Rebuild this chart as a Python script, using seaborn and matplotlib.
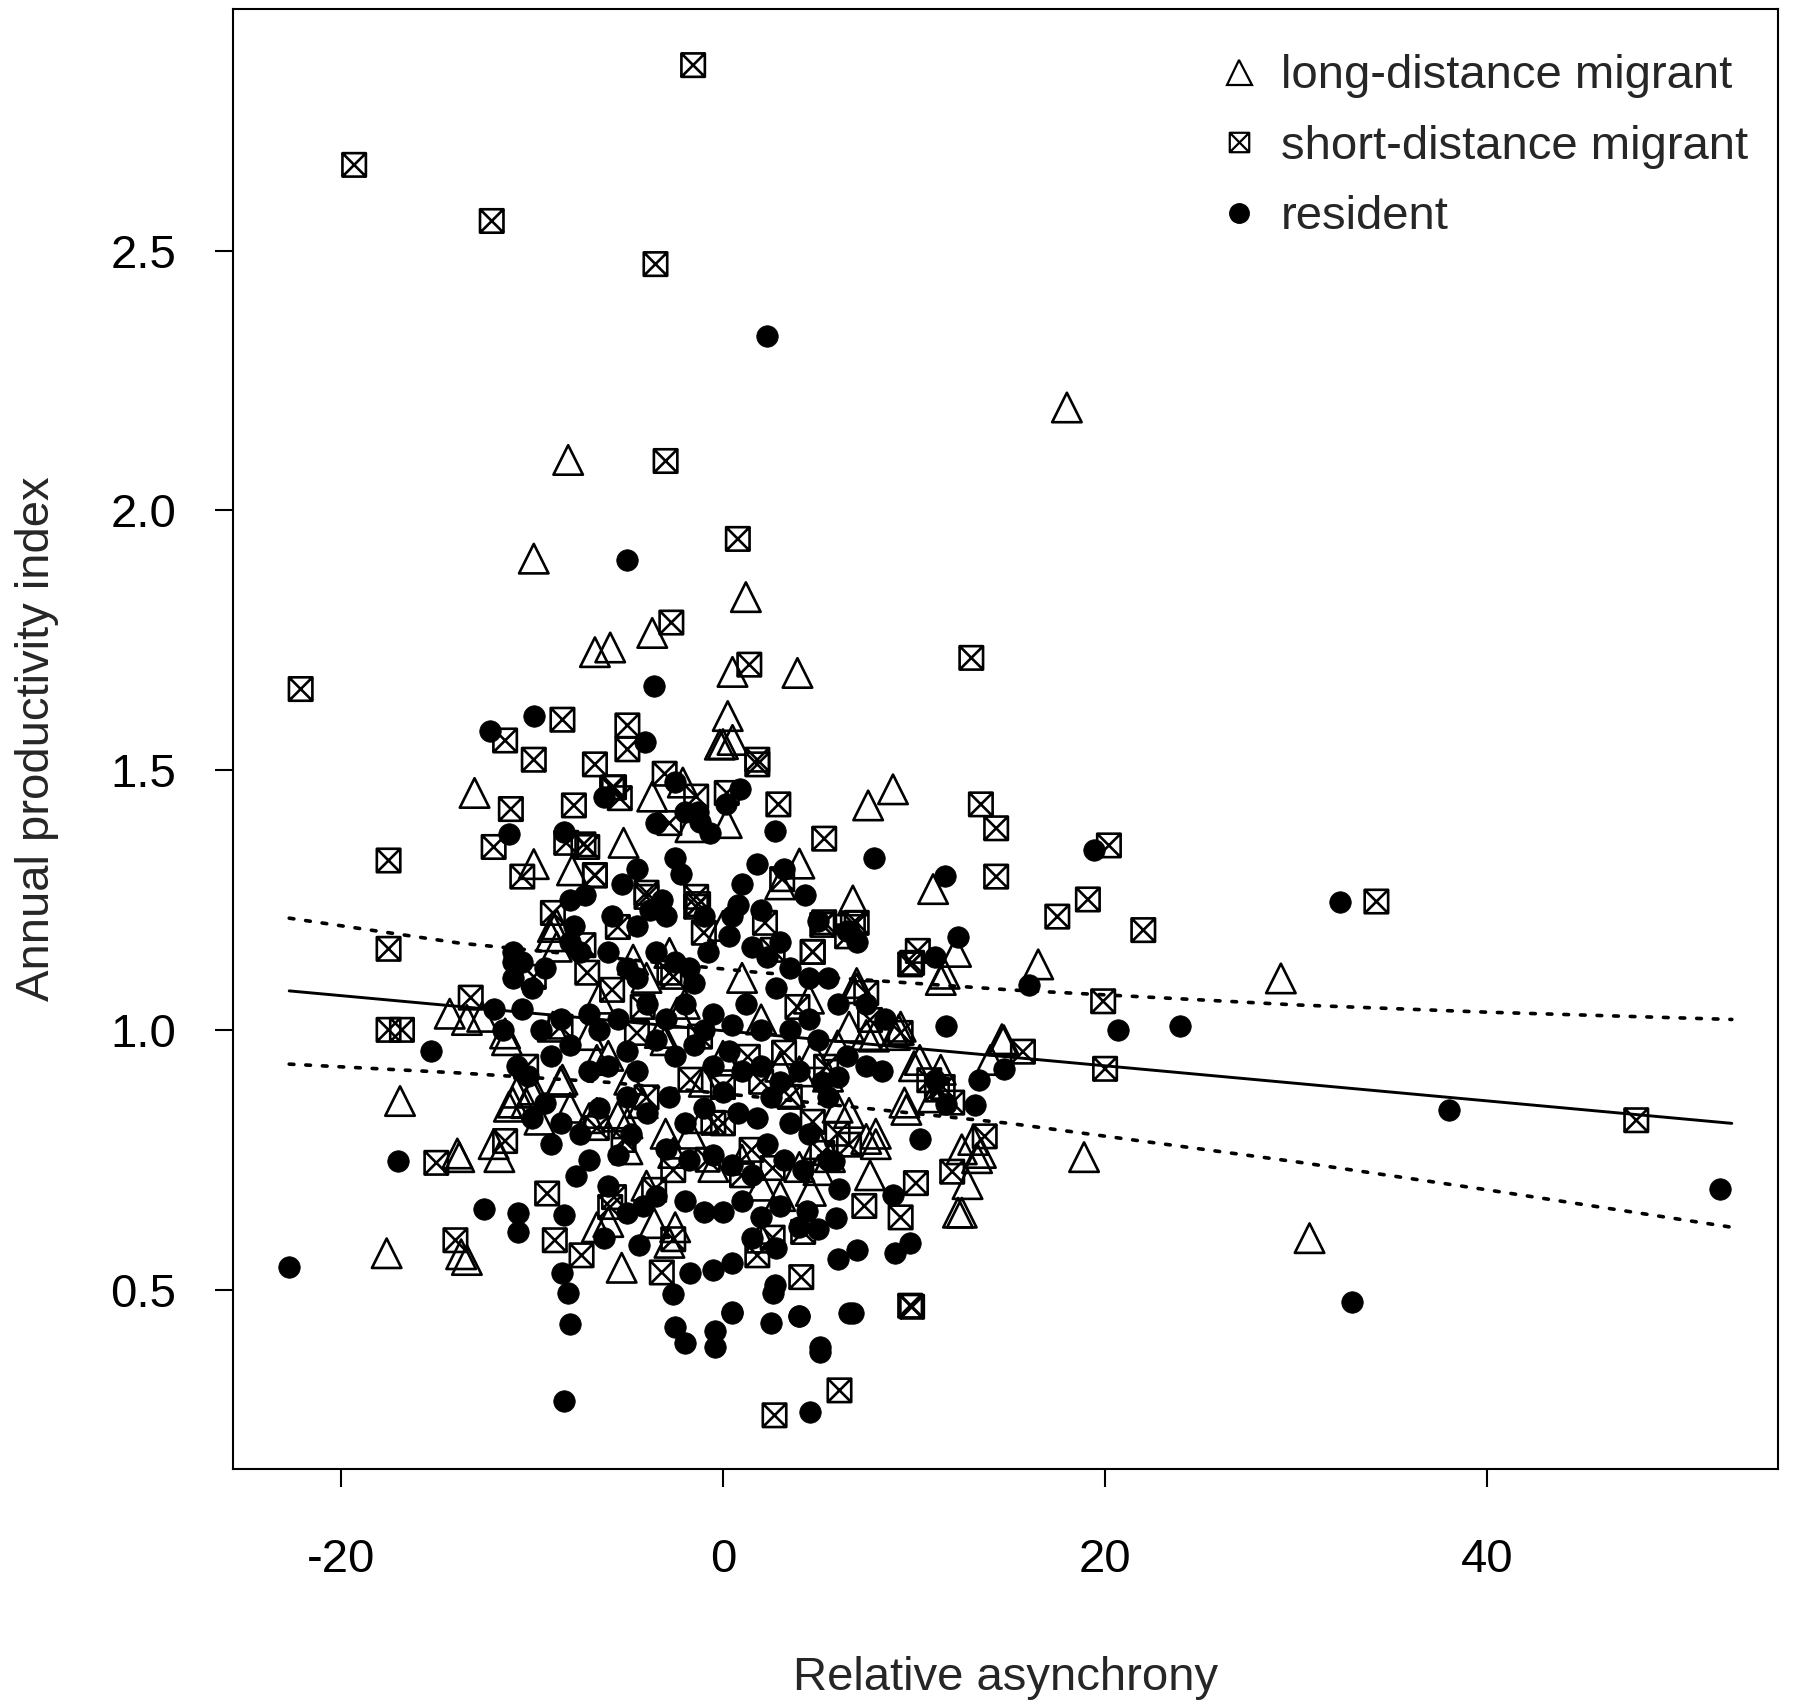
import numpy as np
import pandas as pd
import matplotlib
matplotlib.use("Agg")
import matplotlib.pyplot as plt
import seaborn as sns
from matplotlib.path import Path
from matplotlib.lines import Line2D

# ---------------- data ----------------
ld_x = [-9.9, -8.1, 18.0, -3.7, -6.7, -5.9, 1.2, 3.9, 0.5, 0.25, 0.0, 0.5, -13.0, 8.9, 7.6,
        -3.7, -2.1, -1.7, 0.2, -9.9, -5.2, -7.9, 11.0, 6.8, 12.2, 11.6, 16.5, 29.2, -8.7,
        -14.3, -11.4, 14.6, 9.2, -10.3, -16.9, 18.9, -13.9, -17.6, -13.7, -5.3, 30.7, 12.8,
        12.5, 13.3, 7.7,
        -4.0, -2.0, 0.0, 2.0, 4.0, -6.0, -8.0, -3.0, 1.0, 3.0, 5.0, 6.0, -5.0, -7.0, 8.0,
        -1.0, 3.0, 4.0, 1.0, 7.0, -9.0, -10.0, -6.0, -5.0, 9.0, 10.0, -12.0, -3.0, 2.0, 5.0,
        11.0, -1.0, 6.0, -4.0, 0.0, 2.0, -7.0, -11.0, 7.5, 5.5, 3.5, -2.5, 8.0, 12.5, 9.5,
        4.5, -6.5, -8.5,
        4.0, 12.3, 13.5, 13.1, 6.6, 5.6, 4.6, 7.5, 9.6, 11.4, 7.0, 6.6, 7.9, 9.3, 10.3,
        11.4, 14.7, 14.0, 4.7, 3.0, -8.9, -8.7, -13.4, -12.6, -11.3, -8.9, -2.8, -4.7,
        -2.4, -6.6, -8.4, -10.8, -9.9, -4.9, -3.3, -11.2, -9.6, -11.7, -13.8, -6.6, -5.5,
        -4.2, -6.6, -2.6, -2.8, -3.6, -13.4, -1.7, -0.5, -0.16]
ld_y = [1.907, 2.097, 2.198, 1.764, 1.727, 1.736, 1.833, 1.687, 1.689, 1.604, 1.55, 1.558,
        1.456, 1.463, 1.432, 1.449, 1.476, 1.39, 1.398, 1.319, 1.36, 1.307, 1.271, 1.249,
        1.15, 1.108, 1.126, 1.099, 1.203, 1.031, 0.993, 0.982, 1.0, 0.859, 0.863, 0.755,
        0.762, 0.570, 0.568, 0.542, 0.599, 0.703, 0.648, 0.753, 0.72,
        1.1, 1.05, 0.95, 1.02, 0.92, 0.95, 0.85, 0.8, 0.75, 0.68, 0.78, 0.85, 0.82, 0.83,
        0.8, 0.9, 1.28, 1.32, 1.1, 1.08, 1.18, 0.88, 0.63, 0.77, 0.99, 0.93, 0.78, 0.98,
        0.7, 0.73, 0.87, 0.83, 0.97, 0.7, 1.2, 0.6, 0.99, 0.86, 0.99, 0.91, 0.88, 0.62,
        0.78, 0.77, 0.86, 1.06, 1.06, 0.9,
        0.736, 0.648, 0.763, 0.788, 0.84, 0.755, 0.69, 0.79, 0.846, 1.096, 1.09, 1.006,
        0.987, 1.006, 0.942, 0.923, 0.98, 0.942, 0.955, 0.929, 1.198, 1.16, 1.019, 1.025,
        0.98, 1.006, 1.148, 1.135, 1.033, 0.942, 0.904, 0.879, 0.885, 0.904, 0.994, 0.852,
        0.827, 0.755, 0.755, 0.84, 0.833, 0.859, 0.62, 0.763, 0.59, 0.628, 0.557, 0.8,
        0.736, 1.549]

sd_x = [-1.56, -19.3, -12.1, -3.53, -3.0, 0.78, -2.7, 1.38, 13.0, -22.1, -8.4, -5.0, -11.4,
        -9.9, -5.0, -6.7, 1.8, -5.7, -3.05, -7.8, -11.1, 2.9, 13.5, 14.3, 5.3, -12.0, -17.5,
        -7.3, 20.2, -10.5, 14.3, -6.7, -4.0, -1.3, -8.9, 19.1, 17.5, 5.3, 6.8, 34.2, 22.0,
        -17.5, 4.7, 10.2, 9.8, -13.2, 19.9, -17.5, -16.8, 15.7, 20.0, 10.8, 47.8, -15.0,
        -11.4, 13.7, 12.0, 10.1, 7.4, 9.3, -9.2, -14.0, -8.8, -7.4, -3.2, -2.6, 1.8, 4.1,
        9.8, 6.1, 2.7,
        -5.8, -5.4, -1.4, 0.2, -2.8, -8.2, -7.1, -6.7, -4.0, -1.4, 1.8, 3.1,
        2.2, 5.2, 7.0, 6.5, 4.7, 2.6, 9.9, 7.5, 7.7, 9.3, 3.9, 1.3, 3.2, 5.4, 3.5, 11.2,
        -5.5, -7.3, -7.1, -2.8, -9.9, -4.2, -5.8, -4.5, -8.5, -1.0, -1.4, -2.6, -10.3,
        -1.2, -1.7, 0.0, -5.7, -5.9, -3.6, -6.6, -5.2, -2.6, -0.8, -0.5,
        4.7, 5.2, 6.6, 1.5, 2.6, 2.6, 4.2, 9.9, 0.0, 2.0, -4.0, 6.0, 1.0, 11.5, 12.0]
sd_y = [2.857, 2.665, 2.557, 2.474, 2.095, 1.945, 1.784, 1.703, 1.716, 1.656, 1.597, 1.586,
        1.557, 1.52, 1.54, 1.511, 1.511, 1.467, 1.493, 1.432, 1.425, 1.434, 1.434, 1.388,
        1.368, 1.352, 1.326, 1.357, 1.355, 1.295, 1.295, 1.297, 1.256, 1.242, 1.225, 1.251,
        1.218, 1.207, 1.205, 1.247, 1.192, 1.156, 1.15, 1.152, 1.126, 1.062, 1.055, 1.0,
        1.0, 0.958, 0.925, 0.903, 0.826, 0.744, 0.786, 0.795, 0.727, 0.705, 0.661, 0.639,
        0.685, 0.595, 0.595, 0.566, 0.533, 0.597, 0.566, 0.524, 0.469, 0.306, 0.258,
        1.466, 1.446, 1.449, 1.456, 1.398, 1.36, 1.352, 1.298, 1.264, 1.256, 1.52, 1.29,
        1.206, 1.202, 1.206, 1.18, 1.15, 1.154, 1.129, 1.071, 1.019, 0.994, 1.044, 0.948,
        0.956, 0.929, 0.871, 0.885,
        1.198, 1.163, 1.11, 1.11, 1.102, 1.044, 1.077, 0.994, 1.006, 1.187, 1.237, 1.102,
        0.929, 0.987, 0.904, 0.89, 0.678, 0.659, 0.692, 0.811, 0.788, 0.73, 0.75, 0.821,
        0.823, 0.763, 0.779, 0.769, 0.734, 0.6, 0.611, 0.467, 0.82, 0.9, 0.87, 0.8, 0.72,
        0.89, 0.86]

res_x = [2.3, -5.0, -3.6, -12.2, -9.9, -4.1, -2.5, 0.9, -11.2, -8.3, 2.75, -6.2, -3.5, -1.3,
         0.18, -0.7, 11.6, 19.4, 7.9, 32.3, 12.3, 16.0, 20.7, 23.9, 38.0, 52.2, 32.9, -22.7,
         -17.0, -15.3, -12.5, -10.7, -10.7, -10.2, -8.4, -8.3, -8.1, -8.0, -8.3, -7.7, -6.2,
         -5.0, -4.4, -2.6, -1.7, -0.5, 0.5, 0.5, -2.5, -2.0, -0.4, -0.4, 2.5, 2.6, 2.75, 4.0,
         5.1, 5.1, 4.55, 6.6, 7.0, 6.0, 9.8, 9.0, 8.9, 10.3, 11.7, 13.2, 13.4, 11.7, 14.7,
         11.1, 11.1, 6.1, 5.8, 5.0, 4.4, 5.9, 0.5, 6.8,
         -2.5, -2.2, -4.5, -5.3, -7.2, -8.0, 3.2, 1.0, 4.3, 0.5, -1.0, -3.0, -3.8, -5.8,
         -7.8, 2.0, 5.0, 6.5, 7.0, -8.0, -11.0, -10.5, -9.3, -7.5, -6.0, -5.0, -4.5, -3.5,
         -2.5, -1.8, -1.5, -0.8, 0.3, 1.5, 2.3, 3.0, 3.5, 4.5, 5.5, 6.0, 7.5, 8.5, -11.0,
         -10.0, -10.5, -11.5, -9.5, -12.0, -8.5, -7.0, -6.5, -5.5, -4.0, -3.0, -2.0, -1.0,
         -0.5, 0.5, 1.2, 2.0, 2.8, 3.5, 4.5, 5.0, 6.5, 7.5, 8.3, -10.8, -9.0, -8.0, -7.0,
         -6.0, -5.0, -4.5, -3.5, -2.5, -1.5, -0.5, 0.3, 1.0, 2.0, 3.0, 4.0, 5.2, 6.0, -10.0,
         -9.3, -8.5, -7.5, -6.5, -5.0, -4.0, -2.8, -2.0, -1.0, 0.0, 0.8, 1.8, 2.5, 3.5, 4.5,
         5.5, -9.0, -7.0, -5.5, -4.8, -3.0, -1.8, -0.5, 0.5, 1.5, 2.3, 3.2, 4.2, 5.5, -6.0,
         -3.5, -2.0, -1.0, 0.0, 1.0, 2.0, 3.0, 4.0, -4.2, 1.5, 2.8, -11.0, -1.2, -2.0, -4.5,
         1.8, 0.8, -3.2, 4.0]
res_y = [2.335, 1.905, 1.661, 1.575, 1.604, 1.555, 1.478, 1.463, 1.377, 1.381, 1.383, 1.449,
         1.399, 1.419, 1.434, 1.379, 1.297, 1.346, 1.33, 1.247, 1.178, 1.086, 1.0, 1.007,
         0.846, 0.694, 0.476, 0.544, 0.747, 0.96, 0.656, 0.61, 0.648, 0.912, 0.531, 0.286,
         0.493, 0.434, 0.643, 0.718, 0.6, 0.648, 0.586, 0.491, 0.531, 0.537, 0.551, 0.456,
         0.428, 0.397, 0.421, 0.39, 0.436, 0.493, 0.509, 0.449, 0.39, 0.379, 0.264, 0.454,
         0.577, 0.559, 0.59, 0.57, 0.683, 0.789, 0.857, 0.855, 0.903, 1.007, 0.925, 0.903,
         1.141, 0.694, 0.747, 0.617, 0.652, 0.637, 0.455, 0.455,
         1.33, 1.30, 1.31, 1.28, 1.26, 1.25, 1.31, 1.28, 1.26, 1.22, 1.22, 1.22, 1.23, 1.22,
         1.20, 1.23, 1.21, 1.19, 1.17, 1.17, 1.15, 1.13, 1.12, 1.15, 1.15, 1.12, 1.10, 1.15,
         1.13, 1.12, 1.09, 1.15, 1.18, 1.16, 1.14, 1.17, 1.12, 1.10, 1.10, 1.05, 1.05, 1.02,
         1.10, 1.08, 1.04, 1.00, 1.00, 1.04, 1.02, 1.03, 1.00, 1.02, 1.05, 1.02, 1.05, 1.00,
         1.03, 1.01, 1.05, 1.00, 1.08, 1.00, 1.02, 0.98, 0.95, 0.93, 0.92, 0.93, 0.95, 0.97,
         0.92, 0.93, 0.96, 0.92, 0.98, 0.95, 0.97, 0.93, 0.96, 0.92, 0.93, 0.90, 0.92, 0.90,
         0.91, 0.83, 0.86, 0.82, 0.80, 0.85, 0.87, 0.84, 0.87, 0.82, 0.85, 0.88, 0.84, 0.83,
         0.87, 0.82, 0.80, 0.87, 0.78, 0.75, 0.76, 0.80, 0.77, 0.75, 0.76, 0.74, 0.72, 0.78,
         0.75, 0.73, 0.75, 0.70, 0.68, 0.67, 0.65, 0.65, 0.67, 0.64, 0.66, 0.62, 0.66, 0.60,
         0.58, 1.13, 1.40, 1.42, 1.20, 1.32, 1.24, 1.25, 0.45]

fit_x = [-22.7, 52.8]
fit_y = [1.075, 0.82]
band_x = [-22.7, -13.8, -6.0, 2.0, 15.0, 30.0, 40.0, 52.8]
band_upper = [1.215, 1.167, 1.139, 1.11, 1.077, 1.048, 1.034, 1.02]
band_lower = [0.934, 0.917, 0.899, 0.87, 0.82, 0.746, 0.692, 0.62]

labels = ["long-distance migrant", "short-distance migrant", "resident"]
x_ticks = [-20, 0, 20, 40]
y_ticks = [0.5, 1.0, 1.5, 2.0, 2.5]

# ---------------- figure ----------------
sns.set_theme(style="ticks")
plt.rcParams["font.family"] = ["Liberation Sans", "DejaVu Sans"]
FS = 34

fig = plt.figure(figsize=(17.94, 17.02), dpi=100)
ax = fig.add_axes([0.130, 0.137, 0.861, 0.8577])

boxx = Path([(-1, -1), (1, -1), (1, 1), (-1, 1), (-1, -1),
             (-1, -1), (1, 1), (-1, 1), (1, -1)],
            [Path.MOVETO, Path.LINETO, Path.LINETO, Path.LINETO, Path.CLOSEPOLY,
             Path.MOVETO, Path.LINETO, Path.MOVETO, Path.LINETO])

df_ld = pd.DataFrame({"x": ld_x, "y": ld_y})
df_sd = pd.DataFrame({"x": sd_x, "y": sd_y})
df_res = pd.DataFrame({"x": res_x, "y": res_y})

LW = 1.9
sns.scatterplot(data=df_ld, x="x", y="y", marker="^", s=450, facecolors="none",
                edgecolor="black", linewidth=LW, ax=ax, zorder=3)
sns.scatterplot(data=df_sd, x="x", y="y", marker=boxx, s=285, facecolors="none",
                edgecolor="black", linewidth=LW, ax=ax, zorder=3)
sns.scatterplot(data=df_res, x="x", y="y", marker="o", s=240, color="black",
                edgecolor="black", linewidth=0.5, ax=ax, zorder=4)

df_fit = pd.DataFrame({"x": fit_x, "y": fit_y})
sns.lineplot(data=df_fit, x="x", y="y", color="black", linewidth=2.1, ax=ax, zorder=5)
df_band = pd.DataFrame({"x": band_x, "up": band_upper, "lo": band_lower})
for col in ["up", "lo"]:
    sns.lineplot(data=df_band, x="x", y=col, color="black", linewidth=2.6,
                 linestyle=(0, (1.3, 3.3)), dash_capstyle="round", ax=ax, zorder=5)

ax.set_xlim(-25.63, 55.21)
ax.set_ylim(0.155, 2.965)
ax.set_xticks(x_ticks)
ax.set_xticklabels([str(t) for t in x_ticks])
ax.set_yticks(y_ticks)
ax.set_yticklabels([f"{t:.1f}" for t in y_ticks])
ax.tick_params(axis="both", direction="out", length=13, width=1.5, labelsize=FS,
               colors="black")
ax.tick_params(axis="x", pad=37)
ax.tick_params(axis="y", pad=28)
for sp in ax.spines.values():
    sp.set_visible(True)
    sp.set_linewidth(1.5)
    sp.set_color("black")

ax.set_xlabel("Relative asynchrony", fontsize=FS)
ax.set_ylabel("Annual productivity index", fontsize=FS)
ax.xaxis.set_label_coords(0.5, -0.128)
ax.yaxis.set_label_coords(-0.113, 0.5)

handles = [
    Line2D([], [], linestyle="none", marker="^", markersize=18, markerfacecolor="none",
           markeredgecolor="black", markeredgewidth=1.6),
    Line2D([], [], linestyle="none", marker=boxx, markersize=14, markerfacecolor="none",
           markeredgecolor="black", markeredgewidth=1.6),
    Line2D([], [], linestyle="none", marker="o", markersize=14, markerfacecolor="black",
           markeredgecolor="black"),
]
ax.legend(handles, labels, loc="upper left", bbox_to_anchor=(0.636, 0.969),
          frameon=False, fontsize=FS, handlelength=1.0, handletextpad=0.39,
          labelspacing=0.56, borderpad=0, borderaxespad=0)

fig.savefig("out.png", dpi=100, facecolor="white")
